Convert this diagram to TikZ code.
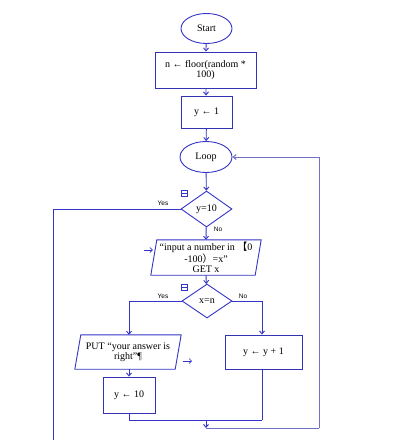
\documentclass[tikz,border=0pt]{standalone}
\usepackage{fontspec}
\setmainfont{Liberation Serif}
\newfontfamily\lblfont{Liberation Sans}
\newfontfamily\cjkf{Noto Sans CJK SC}
\usetikzlibrary{shapes.geometric,arrows.meta,calc}
\definecolor{fc}{RGB}{52,52,200}
\definecolor{fb}{RGB}{50,50,178}
\definecolor{fl}{RGB}{112,112,200}
\begin{document}
\begin{tikzpicture}[x=1pt,y=-1pt,
  every node/.style={font=\fontsize{10}{10.5}\selectfont, inner sep=0pt, align=center},
  term/.style={ellipse, draw=fc, line width=0.9pt, fill=white},
  procbox/.style={rectangle, draw=fb, line width=0.9pt, fill=white},
  decis/.style={diamond, draw=fc, line width=0.9pt, fill=white},
  iotext/.style={rectangle, draw=none},
  para/.style={draw=fc, line width=0.9pt},
  conn/.style={draw=fc, line width=0.9pt, -{Straight Barb[length=3pt,width=5pt]}},
  plainline/.style={draw=fc, line width=1pt},
  loopline/.style={draw=fl, line width=1pt},
  lbl/.style={font=\lblfont\fontsize{6.5}{7}\selectfont},
  icon/.style={rectangle, draw=fc, line width=0.8pt, minimum width=6pt, minimum height=6pt},
  ioarrow/.style={draw=fc, line width=0.7pt, -{Straight Barb[length=2.5pt,width=5pt]}}
]
\useasboundingbox (0,0) rectangle (419,440);
\fill[white] (0,0) rectangle (419,440);

% nodes
\node[term, minimum width=51pt, minimum height=30pt] (start) at (206.5,28.5) {Start};
\node[procbox, minimum width=101pt, minimum height=36pt] (nfl) at (205.5,70) {n ← floor(random *\\100)};
\node[procbox, minimum width=51pt, minimum height=32pt] (y1) at (206.5,112) {y ← 1};
\node[term, minimum width=52pt, minimum height=31pt] (loop) at (206,157) {Loop};
\node[decis, minimum width=51pt, minimum height=36pt] (d1) at (206.5,209) {y=10};
\node[iotext, minimum width=104pt, minimum height=35pt] (inp) at (206,257.5)
  {“input a number in {\cjkf 【}0\\-100{\cjkf ）}=x”\\GET x};
\draw[para] ([xshift=3pt]inp.north west) -- ([xshift=3pt]inp.north east) -- ([xshift=-3pt]inp.south east) -- ([xshift=-3pt]inp.south west) -- cycle;
\node[decis, minimum width=50pt, minimum height=34pt] (d2) at (207,301) {x=n};
\node[iotext, minimum width=100pt, minimum height=34pt] (put) at (128,352) {PUT “your answer is\\right”¶};
\draw[para] ([xshift=3pt]put.north west) -- ([xshift=3pt]put.north east) -- ([xshift=-3pt]put.south east) -- ([xshift=-3pt]put.south west) -- cycle;
\node[procbox, minimum width=52pt, minimum height=36pt] (y10) at (129,395) {y ← 10};
\node[procbox, minimum width=77pt, minimum height=34pt] (yy1) at (263.5,352) {y ← y + 1};

% icons
\node[icon] (ic1) at (184,193.5) {};
\draw[fc, line width=0.8pt] (ic1.west) -- (ic1.east);
\node[icon] (ic2) at (184,287.5) {};
\draw[fc, line width=0.8pt] (ic2.west) -- (ic2.east);

% labels
\node[lbl] (yes1) at (163,203) {Yes};
\node[lbl] (no1) at (218,229) {No};
\node[lbl] (yes2) at (163,296) {Yes};
\node[lbl] (no2) at (243,296) {No};

% coordinates
\coordinate (lb) at (53.5,440);
\coordinate (j1) at (129,420);
\coordinate (j2) at (262,420);
\coordinate (jm) at (206,420);
\coordinate (jb) at (206,428);
\coordinate (rb) at (319,428);
\coordinate (ia) at (144,250);
\coordinate (pa) at (183,361);
\coordinate (pb) at (192,361);

% connectors
\draw[conn] (start) -- (nfl);
\draw[conn] (nfl) -- (y1);
\draw[conn] (y1) -- (loop);
\draw[conn] (loop) -- (d1);
\draw[conn] (d1) -- (inp.north);
\draw[conn] (inp.south) -- (d2);
\draw[plainline] (d1.west) -- (d1.west -| lb) -- (lb);
\draw[conn] (d2.west) -| (y10.north |- put.north);
\draw[conn] (d2.east) -| (yy1.north -| j2);
\draw[conn] (y10.north |- put.south) -- (y10.north);
\draw[plainline] (y10.south) -- (j1) -- (j2);
\draw[plainline] (yy1.south -| j2) -- (j2);
\draw[conn] (jm) -- (jb);
\draw[loopline] (jb) -- (rb);
\draw[loopline, -{Straight Barb[length=3pt,width=5pt]}] (rb) -- (rb |- loop.east) -- (loop.east);
\draw[ioarrow] (ia) -- ([xshift=-1pt]inp.west |- ia);
\draw[ioarrow] (pa) -- (pb);
\end{tikzpicture}
\end{document}
